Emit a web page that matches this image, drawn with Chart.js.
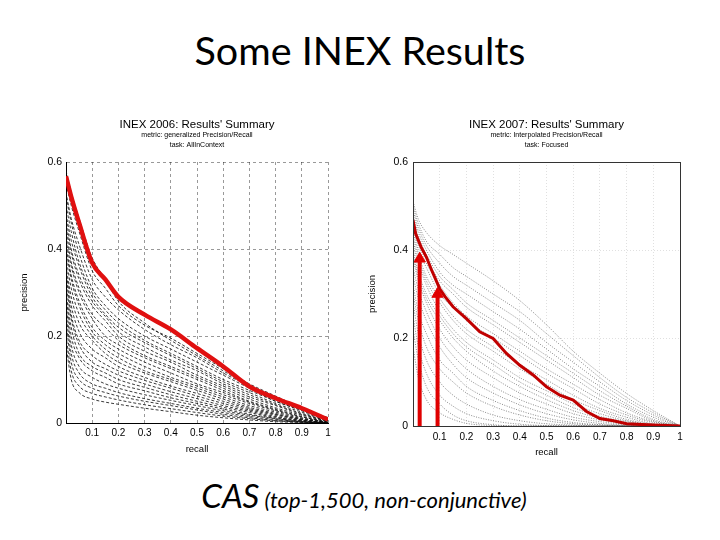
<!DOCTYPE html>
<html><head><meta charset="utf-8">
<script src="https://cdn.jsdelivr.net/npm/chart.js@4.4.1/dist/chart.umd.min.js"></script>
<style>
html,body{margin:0;padding:0;background:#fff;width:720px;height:540px;overflow:hidden;position:relative;}
#title{position:absolute;left:0;width:720px;top:25px;text-align:center;font-family:Lato,sans-serif;font-size:39.5px;color:#000;line-height:50px;}
#cap{position:absolute;left:4px;width:720px;top:475px;text-align:center;font-family:Lato,sans-serif;font-style:italic;color:#000;line-height:40px;white-space:nowrap;}
canvas{position:absolute;}
</style></head><body>
<div id="title">Some INEX Results</div>
<div id="cap"><span style="font-size:33px">CAS</span><span style="font-size:22px"> (top-1,500, non-conjunctive)</span></div>
<canvas id="c1" width="330" height="355" style="left:10px;top:110px"></canvas>
<canvas id="c2" width="330" height="355" style="left:362px;top:110px"></canvas>
<script>
// ---------- data ----------
const recall06 = [0, 0.02, 0.05, 0.1, 0.15, 0.2, 0.3, 0.4, 0.5, 0.6, 0.7, 0.8, 0.9, 1];
const best06 = [0.567, 0.52, 0.46, 0.368, 0.33, 0.29, 0.249, 0.215, 0.172, 0.13, 0.084, 0.057, 0.034, 0.008];
const runs06 = [
  [0.58,0.53,0.47,0.38,0.33,0.28,0.23,0.19,0.155,0.12,0.085,0.06,0.035,0.01],
  [0.55,0.5,0.44,0.35,0.31,0.27,0.225,0.195,0.16,0.125,0.09,0.062,0.035,0.012],
  [0.53,0.47,0.41,0.33,0.29,0.26,0.215,0.18,0.15,0.115,0.085,0.058,0.032,0.01],
  [0.52,0.46,0.39,0.31,0.27,0.24,0.2,0.17,0.14,0.11,0.08,0.05,0.03,0.008],
  [0.5,0.44,0.37,0.3,0.26,0.23,0.19,0.16,0.13,0.1,0.075,0.05,0.028,0.008],
  [0.48,0.42,0.36,0.29,0.25,0.22,0.185,0.155,0.125,0.095,0.07,0.045,0.025,0.006],
  [0.47,0.4,0.34,0.28,0.245,0.21,0.175,0.145,0.12,0.09,0.065,0.042,0.022,0.005],
  [0.45,0.39,0.33,0.27,0.235,0.2,0.165,0.14,0.11,0.085,0.06,0.04,0.02,0.005],
  [0.44,0.37,0.31,0.25,0.22,0.19,0.155,0.13,0.105,0.08,0.055,0.035,0.018,0.004],
  [0.42,0.36,0.3,0.24,0.2,0.18,0.15,0.125,0.1,0.075,0.05,0.032,0.015,0.003],
  [0.41,0.34,0.28,0.22,0.19,0.17,0.14,0.115,0.09,0.07,0.048,0.03,0.014,0.003],
  [0.4,0.33,0.27,0.21,0.18,0.16,0.13,0.105,0.085,0.065,0.045,0.028,0.012,0.002],
  [0.38,0.31,0.25,0.2,0.17,0.15,0.12,0.1,0.08,0.06,0.04,0.025,0.01,0.002],
  [0.36,0.29,0.23,0.19,0.16,0.14,0.115,0.095,0.075,0.055,0.036,0.022,0.009,0.001],
  [0.35,0.27,0.21,0.17,0.15,0.13,0.105,0.085,0.068,0.05,0.033,0.02,0.008,0.001],
  [0.34,0.25,0.19,0.155,0.135,0.12,0.098,0.08,0.062,0.045,0.03,0.018,0.007,0.001],
  [0.32,0.24,0.18,0.14,0.125,0.11,0.09,0.072,0.056,0.04,0.027,0.015,0.006,0.001],
  [0.3,0.22,0.16,0.13,0.115,0.1,0.082,0.065,0.05,0.036,0.024,0.013,0.005,0],
  [0.29,0.2,0.15,0.12,0.105,0.09,0.074,0.058,0.045,0.032,0.02,0.011,0.004,0],
  [0.27,0.18,0.13,0.105,0.09,0.08,0.065,0.052,0.04,0.028,0.018,0.01,0.003,0],
  [0.25,0.16,0.115,0.09,0.08,0.07,0.056,0.045,0.034,0.024,0.015,0.008,0.003,0],
  [0.23,0.14,0.1,0.08,0.07,0.062,0.05,0.04,0.03,0.02,0.012,0.006,0.002,0],
  [0.2,0.12,0.085,0.068,0.06,0.053,0.042,0.033,0.024,0.016,0.01,0.005,0.002,0],
  [0.18,0.1,0.07,0.055,0.048,0.043,0.034,0.026,0.018,0.012,0.007,0.003,0.001,0]
];

const recall07 = [0, 0.02, 0.05, 0.1, 0.15, 0.2, 0.3, 0.4, 0.5, 0.6, 0.7, 0.8, 0.9, 1];
const bestRecall07 = [0,0.01,0.03,0.05,0.07,0.1,0.12,0.15,0.2,0.25,0.3,0.35,0.4,0.45,0.5,0.55,0.6,0.65,0.7,0.75,0.8,0.9,1];
const best07 = [0.468,0.437,0.407,0.384,0.354,0.312,0.294,0.271,0.244,0.214,0.199,0.165,0.138,0.116,0.089,0.07,0.059,0.033,0.017,0.012,0.005,0.002,0];
const runs07 = [
  [0.51,0.47,0.44,0.41,0.39,0.37,0.33,0.285,0.23,0.17,0.12,0.074,0.035,0],
  [0.5,0.46,0.42,0.39,0.36,0.34,0.3,0.26,0.21,0.16,0.11,0.065,0.03,0],
  [0.49,0.45,0.41,0.37,0.34,0.32,0.28,0.24,0.19,0.145,0.1,0.058,0.025,0],
  [0.48,0.44,0.4,0.35,0.32,0.3,0.26,0.22,0.175,0.13,0.09,0.05,0.02,0],
  [0.47,0.43,0.39,0.34,0.31,0.28,0.24,0.2,0.16,0.12,0.08,0.045,0.015,0],
  [0.46,0.42,0.38,0.33,0.3,0.27,0.23,0.19,0.15,0.11,0.07,0.04,0.012,0],
  [0.45,0.41,0.37,0.32,0.28,0.25,0.21,0.17,0.13,0.095,0.06,0.03,0.01,0],
  [0.44,0.4,0.36,0.3,0.27,0.24,0.2,0.16,0.12,0.085,0.05,0.025,0.008,0],
  [0.43,0.39,0.34,0.29,0.25,0.22,0.18,0.14,0.105,0.07,0.04,0.02,0.005,0],
  [0.42,0.38,0.33,0.28,0.24,0.21,0.17,0.13,0.095,0.06,0.035,0.015,0.004,0],
  [0.41,0.37,0.32,0.26,0.22,0.19,0.15,0.11,0.08,0.05,0.028,0.012,0.003,0],
  [0.4,0.35,0.3,0.25,0.21,0.18,0.14,0.1,0.07,0.042,0.022,0.01,0.002,0],
  [0.39,0.34,0.29,0.24,0.2,0.17,0.125,0.09,0.06,0.035,0.018,0.008,0.002,0],
  [0.38,0.33,0.28,0.22,0.18,0.15,0.11,0.075,0.05,0.028,0.014,0.006,0.001,0],
  [0.36,0.31,0.26,0.2,0.16,0.13,0.09,0.06,0.038,0.02,0.01,0.004,0.001,0],
  [0.34,0.29,0.24,0.18,0.14,0.11,0.075,0.048,0.028,0.014,0.006,0.002,0,0],
  [0.32,0.26,0.21,0.15,0.12,0.09,0.058,0.035,0.018,0.008,0.003,0.001,0,0],
  [0.3,0.24,0.18,0.13,0.1,0.075,0.045,0.025,0.012,0.005,0.002,0,0,0],
  [0.28,0.21,0.15,0.1,0.07,0.05,0.025,0.012,0.005,0.002,0,0,0,0],
  [0.25,0.18,0.12,0.07,0.045,0.028,0.012,0.004,0.001,0,0,0,0,0],
  [0.22,0.15,0.09,0.05,0.025,0.012,0.003,0,0,0,0,0,0,0],
  [0.18,0.11,0.06,0.03,0.015,0.006,0.001,0,0,0,0,0,0,0]
];
const arrowRecall07 = [0.025, 0.092];
const arrowPrecision07 = [0.38, 0.30];

const xTickLabels = ['', '0.1', '0.2', '0.3', '0.4', '0.5', '0.6', '0.7', '0.8', '0.9', '1'];
const yTickLabels = ['0', '0.2', '0.4', '0.6'];
const titleText06 = "INEX 2006: Results' Summary";
const subText06 = ["metric: generalized Precision/Recall", "task: AllInContext"];
const titleText07 = "INEX 2007: Results' Summary";
const subText07 = ["metric: Interpolated Precision/Recall", "task: Focused"];

// ---------- helpers ----------
const pts = (xs, ys) => xs.map((x, i) => ({x: x, y: ys[i]}));
const FONT = "'Liberation Sans', Arial, sans-serif";

const framePlugin = {
  id: 'frame',
  afterDatasetsDraw(chart, args, opts) {
    if (!opts || !opts.color) return;
    const a = chart.chartArea, ctx = chart.ctx;
    ctx.save();
    ctx.strokeStyle = opts.color;
    ctx.lineWidth = 1;
    ctx.strokeRect(Math.round(a.left) + 0.5, Math.round(a.top) + 0.5, Math.round(a.right - a.left), Math.round(a.bottom - a.top));
    ctx.restore();
  }
};

function makeChart(id, datasets, cfg) {
  return new Chart(document.getElementById(id), {
    type: 'scatter',
    data: {datasets: datasets},
    plugins: [framePlugin],
    options: {
      responsive: false,
      animation: false,
      devicePixelRatio: 1,
      layout: {padding: {left: 0, right: 12, top: 0, bottom: 0}},
      plugins: {
        legend: {display: false},
        tooltip: {enabled: false},
        frame: {color: cfg.frameColor},
        title: {display: true, text: cfg.title, fullSize: false, color: '#000',
          font: {family: FONT, size: 11.5, weight: 'normal', lineHeight: 1},
          padding: {top: 9, bottom: 0}},
        subtitle: {display: true, text: cfg.sub, fullSize: false, color: '#000',
          font: {family: FONT, size: 7, weight: 'normal', lineHeight: '10px'},
          padding: {top: 0, bottom: 11.5}}
      },
      scales: {
        x: {
          type: 'linear', min: 0, max: 1,
          afterFit: s => { s.height = cfg.xHeight; },
          ticks: {stepSize: 0.1, autoSkip: false, maxRotation: 0, padding: cfg.xTickPad, color: '#000',
            font: {family: FONT, size: 10},
            callback: (v, i) => xTickLabels[i]},
          grid: {drawTicks: false, color: cfg.gridColor, lineWidth: 1},
          border: {display: true, color: cfg.axisColor, width: 1, dash: cfg.gridDash},
          title: {display: true, text: 'recall', color: '#000', font: {family: FONT, size: 9.5, lineHeight: 1.2},
            padding: {top: 0, bottom: cfg.xTitlePad}}
        },
        y: {
          type: 'linear', min: 0, max: 0.6,
          afterFit: s => { s.width = cfg.yWidth; },
          ticks: {stepSize: 0.2, padding: cfg.yTickPad, color: '#000',
            font: {family: FONT, size: 10.5},
            callback: (v, i) => yTickLabels[i]},
          grid: {drawTicks: false, color: cfg.gridColor, lineWidth: 1},
          border: {display: true, color: cfg.axisColor, width: 1, dash: cfg.gridDash},
          title: {display: true, text: 'precision', color: '#000', font: {family: FONT, size: 9.5, lineHeight: 1.2},
            padding: {top: cfg.yTitlePad, bottom: 0}}
        }
      }
    }
  });
}

// ---------- chart 2006 ----------
const ds06 = [{
  data: pts(recall06, best06), showLine: true, borderColor: '#e01010', borderWidth: 4.5,
  pointRadius: 0, cubicInterpolationMode: 'monotone'
}];
runs06.forEach(r => ds06.push({
  data: pts(recall06, r), showLine: true, borderColor: 'rgba(10,10,10,0.8)', borderWidth: 1,
  borderDash: [3, 2], pointRadius: 0, cubicInterpolationMode: 'monotone'
}));
makeChart('c1', ds06, {
  title: titleText06, sub: subText06, xHeight: 42, yWidth: 56, xTickPad: 4, yTickPad: 4,
  xTitlePad: 10, yTitlePad: 9, gridColor: 'rgba(0,0,0,0.4)', axisColor: '#000', gridDash: [3, 3],
  frameColor: null
});

// ---------- chart 2007 ----------
const ds07 = [];
arrowRecall07.forEach((r, i) => ds07.push({
  data: [{x: r, y: 0}, {x: r, y: arrowPrecision07[i]}], showLine: true,
  borderColor: '#e00000', borderWidth: 4, pointStyle: 'triangle', pointRadius: [0, 6.5],
  pointBackgroundColor: '#e00000', pointBorderColor: '#e00000', pointBorderWidth: 1
}));
ds07.push({
  data: pts(bestRecall07, best07), showLine: true, borderColor: '#c00000', borderWidth: 3,
  pointRadius: 0, tension: 0
});
runs07.forEach(r => ds07.push({
  data: pts(recall07, r), showLine: true, borderColor: 'rgba(60,60,60,0.6)', borderWidth: 1,
  borderDash: [1, 1.5], pointRadius: 0, cubicInterpolationMode: 'monotone'
}));
makeChart('c2', ds07, {
  title: titleText07, sub: subText07, xHeight: 39, yWidth: 51, xTickPad: 5, yTickPad: 5,
  xTitlePad: 7, yTitlePad: 5, gridColor: 'rgba(0,0,0,0.12)', axisColor: '#333', gridDash: [1, 2],
  frameColor: '#333'
});
</script>
</body></html>
